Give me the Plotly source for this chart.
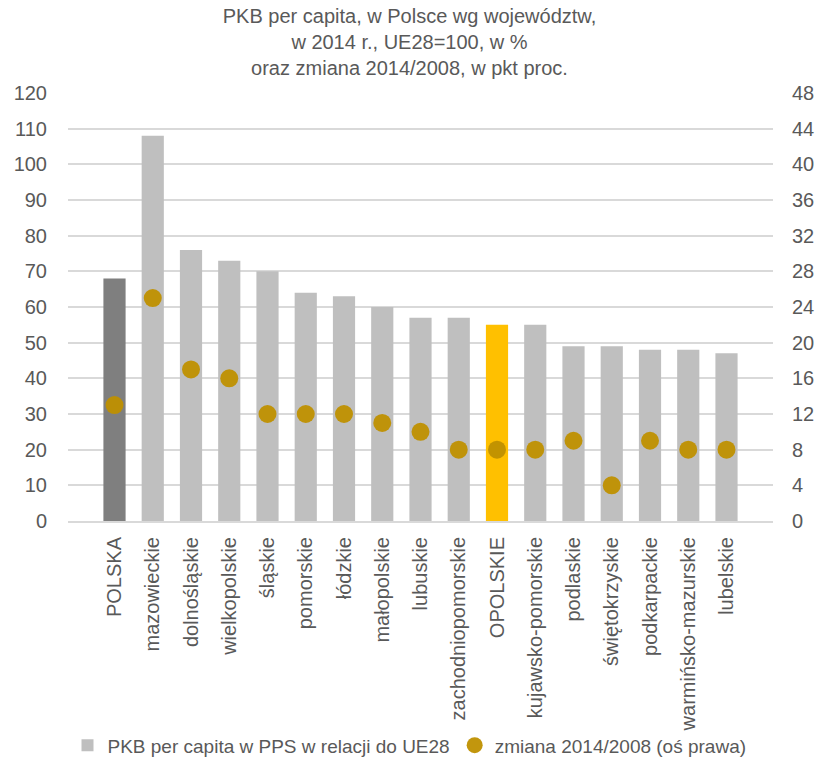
import plotly.graph_objects as go

regions = ["POLSKA", "mazowieckie", "dolnośląskie", "wielkopolskie", "śląskie", "pomorskie",
           "łódzkie", "małopolskie", "lubuskie", "zachodniopomorskie", "OPOLSKIE",
           "kujawsko-pomorskie", "podlaskie", "świętokrzyskie", "podkarpackie",
           "warmińsko-mazurskie", "lubelskie"]
pkb_pps = [68, 108, 76, 73, 70, 64, 63, 60, 57, 57, 55, 55, 49, 49, 48, 48, 47]
change_pp = [13, 25, 17, 16, 12, 12, 12, 11, 10, 8, 8, 8, 9, 4, 9, 8, 8]

FONT = "Liberation Sans Narrow, Arial Narrow, Liberation Sans, Arial, sans-serif"
TXT = "#595959"

bar_colors = []
for r in regions:
    if r == "POLSKA":
        bar_colors.append("#7F7F7F")
    elif r == "OPOLSKIE":
        bar_colors.append("#FFC000")
    else:
        bar_colors.append("#BFBFBF")

fig = go.Figure()
fig.add_trace(go.Bar(x=regions, y=pkb_pps, showlegend=False,
                     marker_color=bar_colors, marker_line_width=0, yaxis="y"))
# legend entry for the bars uses the plain grey of the regions
fig.add_trace(go.Bar(x=[None], y=[None], name="PKB per capita w PPS w relacji do UE28",
                     marker_color="#BFBFBF", marker_line_width=0))
fig.add_trace(go.Scatter(x=regions, y=change_pp, mode="markers", name="zmiana 2014/2008 (oś prawa)",
                         marker=dict(color="#BF9000", size=18, opacity=0.95), yaxis="y2"))

fig.update_layout(
    width=819, height=759,
    margin=dict(l=68, r=46, t=93, b=238, autoexpand=False),
    paper_bgcolor="white", plot_bgcolor="white",
    font=dict(family=FONT, color=TXT, size=20),
    title=dict(text="PKB per capita, w Polsce wg województw,<br>w 2014 r., UE28=100, w %<br>oraz zmiana 2014/2008, w pkt proc.",
               x=0.5, xanchor="center", y=0.97, yanchor="top",
               font=dict(family=FONT, size=20, color=TXT)),
    barmode="overlay",
    bargap=0.42,
    showlegend=True,
    legend=dict(orientation="h", xref="container", yref="container",
                x=0.5, xanchor="center", y=0.018, yanchor="middle",
                font=dict(family=FONT, size=19, color=TXT), itemwidth=30,
                traceorder="normal", bgcolor="rgba(0,0,0,0)"),
    xaxis=dict(tickangle=-90, tickfont=dict(family=FONT, size=20, color=TXT),
               showline=True, linecolor="#D9D9D9", linewidth=2, ticks="",
               ticklabelstandoff=6, automargin=False),
    yaxis=dict(range=[0, 120], dtick=10, showgrid=True, gridcolor="#D9D9D9", gridwidth=1.5,
               zeroline=False, ticks="", tickfont=dict(family=FONT, size=20, color=TXT),
               ticklabelstandoff=20, automargin=False),
    yaxis2=dict(range=[0, 48], dtick=4, overlaying="y", side="right", showgrid=False,
                zeroline=False, ticks="", tickfont=dict(family=FONT, size=20, color=TXT),
                ticklabelstandoff=18, automargin=False),
)

# drop the default page margin so the figure sits at the window's corner
fig.write_html("out.html", config={"displayModeBar": False},
               post_script="document.body.style.margin='0';")
